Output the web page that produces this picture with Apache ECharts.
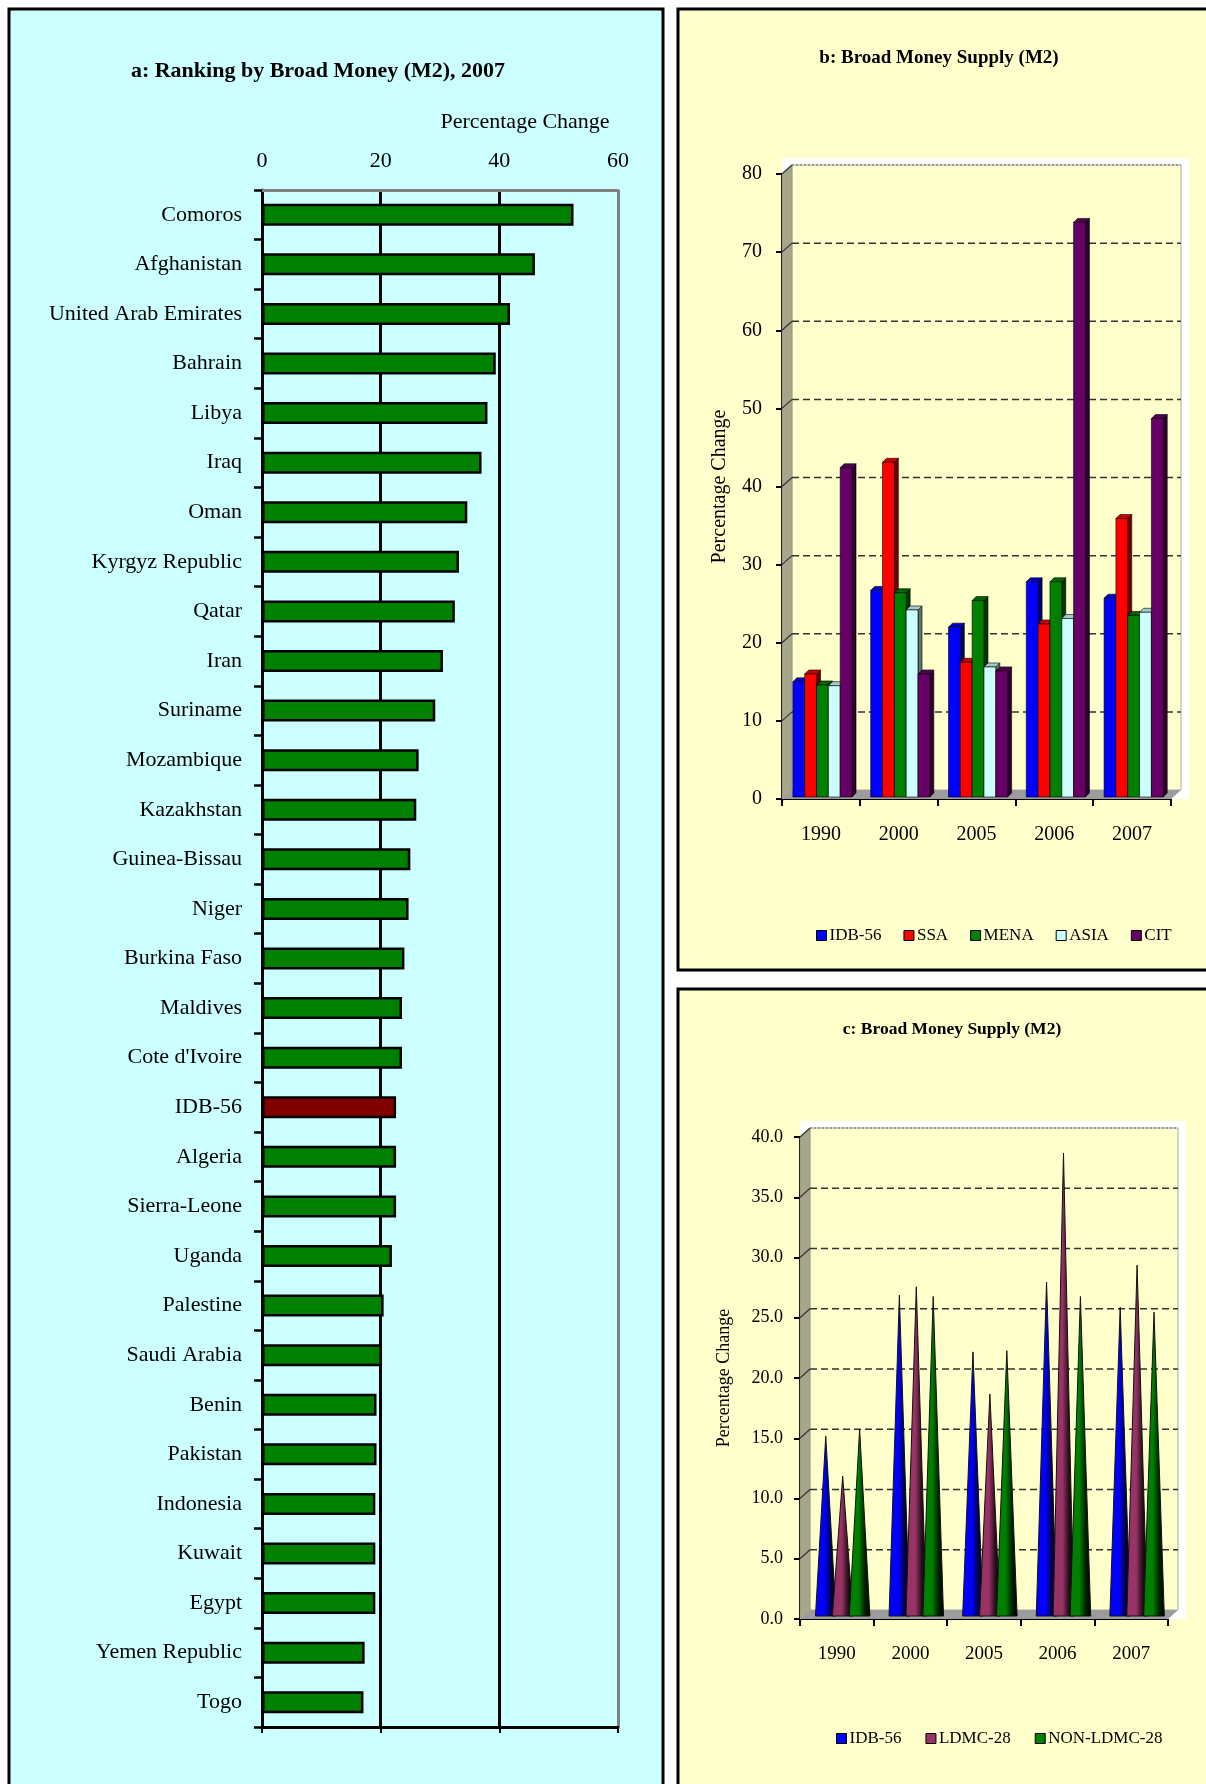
<!DOCTYPE html>
<html>
<head>
<meta charset="utf-8">
<title>Broad Money (M2)</title>
<script src="https://cdn.jsdelivr.net/npm/echarts@6/dist/echarts.min.js"></script>
<style>
  html, body { margin: 0; padding: 0; background: #fff; }
  #chart { width: 1206px; height: 1784px; }
</style>
</head>
<body>
<div id="chart"></div>
<script>
// a: ranking of countries, 2007
var countries = ['Comoros', 'Afghanistan', 'United Arab Emirates', 'Bahrain', 'Libya', 'Iraq', 'Oman',
  'Kyrgyz Republic', 'Qatar', 'Iran', 'Suriname', 'Mozambique', 'Kazakhstan', 'Guinea-Bissau', 'Niger',
  'Burkina Faso', 'Maldives', "Cote d'Ivoire", 'IDB-56', 'Algeria', 'Sierra-Leone', 'Uganda', 'Palestine',
  'Saudi Arabia', 'Benin', 'Pakistan', 'Indonesia', 'Kuwait', 'Egypt', 'Yemen Republic', 'Togo']
var growth2007 = [52.5, 46.0, 41.8, 39.4, 38.0, 37.0, 34.6, 33.2, 32.5, 30.5, 29.2, 26.4, 26.0, 25.0, 24.7,
  24.0, 23.6, 23.6, 22.6, 22.6, 22.6, 21.9, 20.5, 20.2, 19.3, 19.3, 19.1, 19.1, 19.1, 17.3, 17.1]
var rankTicks = [0, 20, 40, 60]

// b: regions
var years = ['1990', '2000', '2005', '2006', '2007']
var idb56 = [15.0, 26.7, 22.0, 27.8, 25.7]
var ssa = [16.0, 43.1, 17.5, 22.4, 35.9]
var mena = [14.6, 26.4, 25.4, 27.8, 23.5]
var asia = [14.5, 24.2, 16.9, 23.1, 23.9]
var cit = [42.4, 16.0, 16.4, 73.8, 48.7]
var regionTicks = [0, 10, 20, 30, 40, 50, 60, 70, 80]

// c: LDMC groups
var ldmc28 = [11.7, 27.4, 18.5, 38.5, 29.2]
var nonLdmc28 = [15.6, 26.6, 22.1, 26.6, 25.3]
var groupTicks = [0, 5, 10, 15, 20, 25, 30, 35, 40]

var regionNames = ['IDB-56', 'SSA', 'MENA', 'ASIA', 'CIT']
var regionColors = ['#0000FF', '#FF0000', '#008000', '#CCFFFF', '#660066']
var groupNames = ['IDB-56', 'LDMC-28', 'NON-LDMC-28']
var groupColors = ['#0000FF', '#993366', '#008000']

var DX = 10, DY = 9 // depth of the 3d walls

// k < 0 goes to black, k > 0 to white
function mix(hex, k) {
  var n = parseInt(hex.slice(1), 16)
  var rgb = [n >> 16, (n >> 8) & 255, n & 255].map(function (c) {
    return Math.round(k < 0 ? c * (1 + k) : c + (255 - c) * k)
  })
  return 'rgb(' + rgb.join(',') + ')'
}

// back wall, side wall, floor and dashed grid lines
function wallItem(topVal) {
  return function (params, api) {
    var cs = params.coordSys
    var v = api.value(1)
    var y = api.coord([0, v])[1]
    var xl = cs.x, xr = cs.x + cs.width, yb = cs.y + cs.height
    if (v === 0) {
      return { type: 'group', children: [
        { type: 'rect', shape: { x: xl, y: cs.y - DY - 7, width: cs.width + DX + 8, height: cs.height + DY + 7 }, style: { fill: '#fff' } },
        { type: 'rect', shape: { x: xl + DX, y: cs.y - DY, width: cs.width, height: cs.height }, style: { fill: '#FFFFCC', stroke: '#aaa', lineWidth: 1 } },
        { type: 'polygon', shape: { points: [[xl, yb], [xl + DX, yb - DY], [xl + DX, cs.y - DY], [xl, cs.y]] }, style: { fill: '#A6A68A', stroke: '#8a8a70', lineWidth: 0.5 } },
        { type: 'polygon', shape: { points: [[xl, yb], [xr, yb], [xr + DX, yb - DY], [xl + DX, yb - DY]] }, style: { fill: '#9C9C9C' } }
      ] }
    }
    var isTop = v === topVal
    return { type: 'group', children: [
      { type: 'line', shape: { x1: xl + DX, y1: y - DY, x2: xr + DX, y2: y - DY },
        style: { stroke: isTop ? '#999' : '#333', lineWidth: isTop ? 2 : 1.5, lineDash: isTop ? [2, 2] : [7, 4] } },
      { type: 'line', shape: { x1: xl, y1: y, x2: xl + DX, y2: y - DY }, style: { stroke: '#333', lineWidth: 1.2 } }
    ] }
  }
}

function bar3d(idx, count, color) {
  return function (params, api) {
    var cat = api.value(0), v = api.value(1)
    var band = api.size([1, 0])[0]
    var c0 = api.coord([cat, 0]), c1 = api.coord([cat, v])
    var w = band * 0.152, d = 4
    var x0 = c0[0] - band * 0.36 + idx * w, x1 = x0 + w
    var yb = c0[1] - 2, yt = c1[1]
    return { type: 'group', children: [
      { type: 'polygon', shape: { points: [[x1, yt], [x1 + d, yt - d], [x1 + d, yb - d], [x1, yb]] }, style: { fill: mix(color, -0.55), stroke: '#000', lineWidth: 0.6 } },
      { type: 'polygon', shape: { points: [[x0, yt], [x0 + d, yt - d], [x1 + d, yt - d], [x1, yt]] }, style: { fill: mix(color, -0.2), stroke: '#000', lineWidth: 0.6 } },
      { type: 'rect', shape: { x: x0, y: yt, width: w, height: yb - yt }, style: { fill: color, stroke: '#000', lineWidth: 0.6 } }
    ] }
  }
}

function cone(idx, color) {
  return function (params, api) {
    var cat = api.value(0), v = api.value(1)
    var band = api.size([1, 0])[0]
    var c0 = api.coord([cat, 0]), c1 = api.coord([cat, v])
    var left = c0[0] - band / 2 + band * (0.21 + 0.23 * idx), w = band * 0.28
    var yb = c0[1] - 3, yt = c1[1] - 2
    return { type: 'polygon', shape: { points: [[left, yb], [left + w / 2, yt], [left + w, yb]] },
      style: { fill: new echarts.graphic.LinearGradient(0, 0, 1, 0, [
        { offset: 0, color: color }, { offset: 0.45, color: color },
        { offset: 0.75, color: mix(color, -0.75) }, { offset: 1, color: '#000' }
      ]), stroke: '#111', lineWidth: 1 } }
  }
}

var serif = 'Liberation Serif'
var series = []

// panel a
series.push({
  type: 'bar', name: 'Broad Money 2007', xAxisIndex: 0, yAxisIndex: 0, barWidth: 22,
  itemStyle: { color: '#008000', borderColor: '#000', borderWidth: 2.5 },
  data: growth2007.map(function (v, i) {
    return countries[i] === 'IDB-56' ? { value: v, itemStyle: { color: '#800000' } } : v
  })
})

// panel b
series.push({ type: 'custom', name: 'wallB', xAxisIndex: 2, yAxisIndex: 1, z: 1, silent: true,
  renderItem: wallItem(80), data: regionTicks.map(function (t) { return [0, t] }) })
;[idb56, ssa, mena, asia, cit].forEach(function (vals, i) {
  series.push({ type: 'custom', name: regionNames[i], xAxisIndex: 2, yAxisIndex: 1, z: 3,
    itemStyle: { color: regionColors[i] },
    renderItem: bar3d(i, 5, regionColors[i]),
    data: vals.map(function (v, j) { return [j, v] }) })
})

// panel c
series.push({ type: 'custom', name: 'wallC', xAxisIndex: 3, yAxisIndex: 2, z: 1, silent: true,
  renderItem: wallItem(40), data: groupTicks.map(function (t) { return [0, t] }) })
;[idb56, ldmc28, nonLdmc28].forEach(function (vals, i) {
  series.push({ type: 'custom', name: groupNames[i], xAxisIndex: 3, yAxisIndex: 2, z: 3,
    itemStyle: { color: groupColors[i] },
    renderItem: cone(i, groupColors[i]),
    data: vals.map(function (v, j) { return [j, v] }) })
})

var option = {
  animation: false,
  backgroundColor: '#fff',
  textStyle: { fontFamily: serif, color: '#000' },
  graphic: [
    { type: 'rect', z: -10, shape: { x: 9, y: 9, width: 654, height: 1800 }, style: { fill: '#CCFFFF', stroke: '#000', lineWidth: 3 } },
    { type: 'rect', z: -10, shape: { x: 678, y: 9, width: 560, height: 961 }, style: { fill: '#FFFFCC', stroke: '#000', lineWidth: 3 } },
    { type: 'rect', z: -10, shape: { x: 678, y: 989, width: 560, height: 820 }, style: { fill: '#FFFFCC', stroke: '#000', lineWidth: 3 } }
  ],
  title: [
    { text: 'a: Ranking by Broad Money (M2), 2007', left: 313, top: 55, textAlign: 'center',
      textStyle: { fontFamily: serif, fontSize: 22, fontWeight: 'bold', color: '#000' } },
    { text: 'Percentage Change', left: 520, top: 106, textAlign: 'center',
      textStyle: { fontFamily: serif, fontSize: 22, fontWeight: 'normal', color: '#000' } },
    { text: 'b: Broad Money Supply (M2)', left: 934, top: 44, textAlign: 'center',
      textStyle: { fontFamily: serif, fontSize: 19, fontWeight: 'bold', color: '#000' } },
    { text: 'c: Broad Money Supply (M2)', left: 947, top: 1015, textAlign: 'center',
      textStyle: { fontFamily: serif, fontSize: 17.5, fontWeight: 'bold', color: '#000' } }
  ],
  legend: [
    { data: regionNames, left: 811, top: 922, icon: 'rect', itemWidth: 10, itemHeight: 10, itemGap: 22,
      itemStyle: { borderColor: '#000', borderWidth: 1 },
      textStyle: { fontFamily: serif, fontSize: 17, color: '#000', padding: [0, 0, 0, -2] } },
    { data: groupNames, left: 831, top: 1725, icon: 'rect', itemWidth: 10, itemHeight: 10, itemGap: 24,
      itemStyle: { borderColor: '#000', borderWidth: 1 },
      textStyle: { fontFamily: serif, fontSize: 17, color: '#000', padding: [0, 0, 0, -2] } }
  ],
  grid: [
    { left: 262, top: 190, width: 356, height: 1537 },
    { left: 782, top: 174, width: 389, height: 625 },
    { left: 800, top: 1137, width: 368, height: 482 }
  ],
  xAxis: [
    { type: 'value', gridIndex: 0, position: 'top', min: 0, max: 60, interval: 20,
      axisLine: { show: true, lineStyle: { color: '#808080', width: 3 } },
      axisTick: { show: false },
      axisLabel: { fontFamily: serif, fontSize: 22, color: '#000', margin: 18 },
      splitLine: { show: true, lineStyle: { color: ['#000', '#000', '#000', '#808080'], width: 3 } } },
    { type: 'value', gridIndex: 0, position: 'bottom', min: 0, max: 60, interval: 20,
      axisLine: { show: true, lineStyle: { color: '#000', width: 3 } },
      axisTick: { show: true, length: 6, lineStyle: { color: '#000', width: 2 } },
      axisLabel: { show: false }, splitLine: { show: false } },
    { type: 'category', gridIndex: 1, data: years,
      axisLine: { show: true, lineStyle: { color: '#000', width: 2 } },
      axisTick: { show: true, length: 7, lineStyle: { color: '#000', width: 2 } },
      axisLabel: { fontFamily: serif, fontSize: 20, color: '#000', margin: 26 } },
    { type: 'category', gridIndex: 2, data: years,
      axisLine: { show: true, lineStyle: { color: '#000', width: 2 } },
      axisTick: { show: true, length: 7, lineStyle: { color: '#000', width: 2 } },
      axisLabel: { fontFamily: serif, fontSize: 19, color: '#000', margin: 26 } }
  ],
  yAxis: [
    { type: 'category', gridIndex: 0, data: countries, inverse: true,
      axisLine: { show: true, lineStyle: { color: '#000', width: 3 } },
      axisTick: { show: true, length: 8, lineStyle: { color: '#000', width: 2.5 } },
      axisLabel: { fontFamily: serif, fontSize: 22, color: '#000', margin: 20 } },
    { type: 'value', gridIndex: 1, min: 0, max: 80, interval: 10,
      name: 'Percentage Change', nameLocation: 'middle', nameGap: 52,
      nameTextStyle: { fontFamily: serif, fontSize: 20, color: '#000' },
      axisLine: { show: true, lineStyle: { color: '#000', width: 3 } },
      axisTick: { show: true, length: 6, lineStyle: { color: '#000', width: 2 } },
      axisLabel: { fontFamily: serif, fontSize: 20, color: '#000', margin: 20 },
      splitLine: { show: false } },
    { type: 'value', gridIndex: 2, min: 0, max: 40, interval: 5,
      name: 'Percentage Change', nameLocation: 'middle', nameGap: 67,
      nameTextStyle: { fontFamily: serif, fontSize: 18, color: '#000' },
      axisLine: { show: true, lineStyle: { color: '#000', width: 3 } },
      axisTick: { show: true, length: 6, lineStyle: { color: '#000', width: 2 } },
      axisLabel: { fontFamily: serif, fontSize: 18, color: '#000', margin: 17,
        formatter: function (v) { return v.toFixed(1) } },
      splitLine: { show: false } }
  ],
  series: series
}

var chart = echarts.init(document.getElementById('chart'))
chart.setOption(option)
</script>
</body>
</html>
